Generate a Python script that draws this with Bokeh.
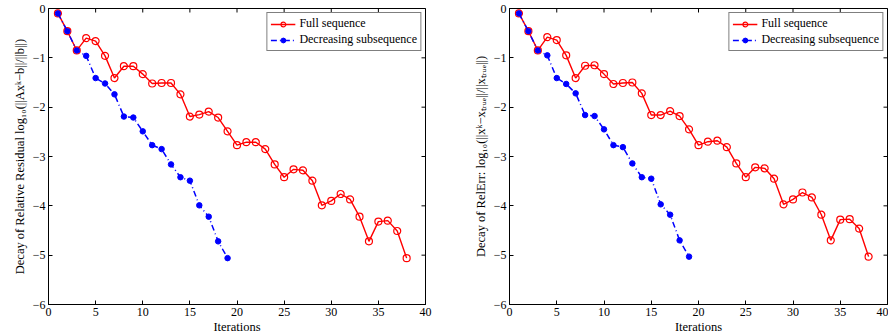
import math
from bokeh.plotting import figure
from bokeh.layouts import row
from bokeh.models import Range1d, FixedTicker, Legend, LegendItem
from bokeh.embed import file_html
from bokeh.resources import INLINE

# ---- data ----
iters_full = list(range(1, 39))
iters_dec = list(range(1, 20))

res_full = [-0.10, -0.46, -0.85, -0.60, -0.66, -0.96, -1.41, -1.17, -1.17, -1.33,
            -1.52, -1.51, -1.51, -1.74, -2.19, -2.15, -2.09, -2.21, -2.49, -2.77,
            -2.71, -2.71, -2.85, -3.16, -3.42, -3.26, -3.28, -3.49, -3.99, -3.90,
            -3.76, -3.87, -4.22, -4.72, -4.32, -4.30, -4.51, -5.06]
res_dec = [-0.10, -0.46, -0.85, -0.96, -1.41, -1.52, -1.74, -2.19, -2.21, -2.49,
           -2.77, -2.85, -3.16, -3.42, -3.49, -3.99, -4.22, -4.72, -5.06]

err_full = [-0.10, -0.46, -0.85, -0.58, -0.64, -0.95, -1.41, -1.16, -1.15, -1.33,
            -1.53, -1.51, -1.50, -1.72, -2.16, -2.16, -2.08, -2.18, -2.45, -2.77,
            -2.70, -2.68, -2.81, -3.14, -3.42, -3.22, -3.24, -3.45, -3.97, -3.87,
            -3.73, -3.83, -4.18, -4.70, -4.28, -4.27, -4.46, -5.03]
err_dec = [-0.10, -0.46, -0.85, -0.95, -1.41, -1.53, -1.72, -2.16, -2.18, -2.45,
           -2.77, -2.81, -3.14, -3.42, -3.45, -3.97, -4.18, -4.70, -5.03]

x_ticks = [0, 5, 10, 15, 20, 25, 30, 35, 40]
y_ticks = [-6, -5, -4, -3, -2, -1, 0]
x_min, x_max = 0, 40
y_min, y_max = -6, 0

label_full = "Full sequence"
label_dec = "Decreasing subsequence"
ylabel_res = "Decay of Relative Residual log\u2081\u2080(||Ax\u1d4f\u2212b||/||b||)"
ylabel_err = "Decay of RelErr: log\u2081\u2080(||x\u1d4f\u2212x\u209c\u1d63\u1d64\u2091||/||x\u209c\u1d63\u1d64\u2091||)"
xlabel = "Iterations"

FONT = "Liberation Serif"
H = 336


def style_axis(ax):
    ax.major_tick_in = 4
    ax.major_tick_out = 0
    ax.minor_tick_line_color = None
    ax.axis_line_color = "black"
    ax.major_tick_line_color = "black"
    ax.major_label_text_font = FONT
    ax.major_label_text_font_size = "12px"
    ax.major_label_text_color = "black"
    ax.major_label_standoff = 3
    ax.axis_label_text_font = FONT
    ax.axis_label_text_font_size = "12.5px"
    ax.axis_label_text_font_style = "normal"
    ax.axis_label_text_color = "black"
    ax.axis_label_standoff = 3


def make(full, dec, ylabel, width, bl, br):
    p = figure(width=width, height=H, x_range=Range1d(x_min, x_max), y_range=Range1d(y_min, y_max),
               output_backend="svg", toolbar_location=None,
               min_border_left=bl, min_border_right=br, min_border_top=8,
               min_border_bottom=29)
    p.xgrid.visible = False
    p.ygrid.visible = False
    p.outline_line_color = "black"
    p.outline_line_width = 1
    p.xaxis.ticker = FixedTicker(ticks=x_ticks)
    p.yaxis.ticker = FixedTicker(ticks=y_ticks)
    for ax in p.xaxis + p.yaxis:
        style_axis(ax)
    p.xaxis.axis_label = xlabel
    p.yaxis.axis_label = ylabel
    p.xaxis.axis_label_standoff = 1

    # mirrored inward ticks on top and right edges (clipped to the frame)
    p.scatter(x_ticks, [y_max] * len(x_ticks), marker="dash", angle=math.pi / 2,
              size=8, line_color="black", line_width=1)
    p.scatter([x_max] * len(y_ticks), y_ticks, marker="dash",
              size=8, line_color="black", line_width=1)

    l1 = p.line(iters_full, full, line_color="#ff0000", line_width=1.4)
    m1 = p.scatter(iters_full, full, marker="circle", size=7, line_color="#ff0000",
                   line_width=1.2, fill_color=None)
    l2 = p.line(iters_dec, dec, line_color="#0000ff", line_width=1.5, line_dash="6 3 1 3")
    m2 = p.scatter(iters_dec, dec, marker="circle", size=5.5, line_color="#0000ff",
                   fill_color="#0000ff")

    legend = Legend(items=[LegendItem(label=label_full, renderers=[l1, m1]),
                           LegendItem(label=label_dec, renderers=[l2, m2])],
                    location="top_right")
    legend.label_text_font = FONT
    legend.label_text_font_size = "12px"
    legend.label_text_color = "black"
    legend.label_height = 12
    legend.glyph_height = 12
    legend.glyph_width = 25
    legend.label_standoff = 4
    legend.spacing = 1
    legend.padding = 3
    legend.margin = 4
    legend.border_line_color = "black"
    legend.border_line_width = 1.5
    legend.background_fill_color = "white"
    legend.background_fill_alpha = 1
    p.add_layout(legend)
    return p


p1 = make(res_full, res_dec, ylabel_res, 465, 48, 40)
p2 = make(err_full, err_dec, ylabel_err, 423, 44, 1)
p = row(p1, p2)

open("out.html", "w").write(file_html(p, INLINE))
